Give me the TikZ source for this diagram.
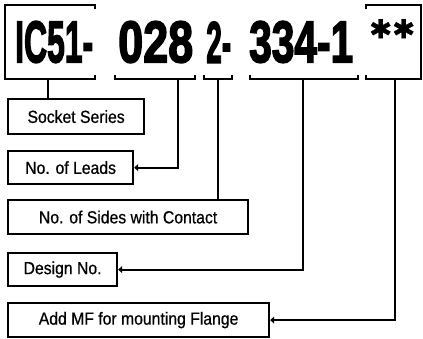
\documentclass[tikz,border=0pt]{standalone}
\usepackage{fontspec}
\setmainfont[FakeStretch=0.9,FakeBold=0.6]{Liberation Sans}
\newfontfamily\bigfont[FakeBold=3]{Liberation Sans Bold}
\newfontfamily\starfont[FakeBold=1]{DejaVu Sans}
\usetikzlibrary{arrows.meta}
\begin{document}
\begin{tikzpicture}[x=1pt,y=-1pt,
  brk/.style={line width=2.2pt},
  lbl/.style={draw,line width=2.2pt,anchor=north west,inner sep=0pt,
    font=\fontsize{17.5}{19}\selectfont},
  conn/.style={line width=2.2pt},
  tipconn/.style={line width=2.2pt,{Triangle[length=4pt,width=7pt]}-},
  big/.style={inner sep=0pt,anchor=south west}]
\useasboundingbox (0,0) rectangle (423,338);
% code text
\node[big] (t1) at (15,63) {\resizebox{78pt}{41pt}{\bigfont\vphantom{I}IC51-}};
\node[big] (t2) at (118,63) {\resizebox{75pt}{41pt}{\bigfont\vphantom{I}028}};
\node[big] (t3) at (206,63) {\resizebox{25pt}{41pt}{\bigfont\vphantom{I}2-}};
\node[big] (t4) at (249,63) {\resizebox{104pt}{41pt}{\bigfont\vphantom{I}334-1}};
\node[inner sep=0pt,anchor=north west] (t5) at (369,19) {\resizebox{46pt}{19pt}{\starfont ✱✱}};
% brackets
\draw[brk] (95,9) -- (95,5) -- (5,5) -- (5,79) -- (95,79) -- (95,75);
\draw[brk] (115,75) -- (115,79) -- (195,79) -- (195,75);
\draw[brk] (204,75) -- (204,79) -- (232,79) -- (232,75);
\draw[brk] (250,75) -- (250,79) -- (358,79) -- (358,75);
\draw[brk] (366,9) -- (366,5) -- (421,5) -- (421,79) -- (366,79) -- (366,75);
\coordinate (s1) at (48,79);
\coordinate (s2) at (178,79);
\coordinate (s3) at (218,79);
\coordinate (s4) at (303,79);
\coordinate (s5) at (395,79);
% labels
\node[lbl,minimum width=136pt,minimum height=35pt] (ss) at (7,98) {Socket Series};
\node[lbl,minimum width=125pt,minimum height=33pt] (nl) at (7,150) {No. of Leads};
\node[lbl,minimum width=240pt,minimum height=34pt] (ns) at (7,199) {No. of Sides with Contact};
\node[lbl,minimum width=109pt,minimum height=33pt] (dn) at (7,252) {Design No.};
\node[lbl,minimum width=261pt,minimum height=34pt] (mf) at (7,302) {Add MF for mounting Flange};
% connectors
\draw[conn] (s1) -- (s1 |- ss.north);
\draw[tipconn] (nl.east) -| (s2);
\draw[conn] (s3) -- (s3 |- ns.north);
\draw[tipconn] (dn.east) -| (s4);
\draw[tipconn] (mf.east) -| (s5);
\end{tikzpicture}
\end{document}
